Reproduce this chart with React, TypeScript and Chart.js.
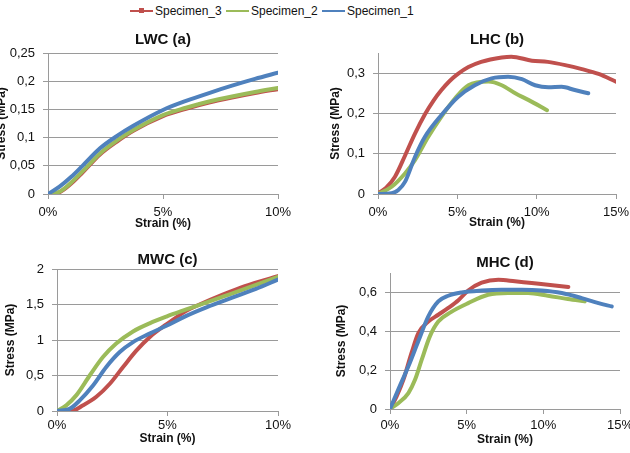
import React, { useEffect, useRef } from "react";
import { Chart, registerables } from "chart.js";

Chart.register(...registerables);

type Pt = [number, number];

// ---------- labels ----------
const seriesNames = ["Specimen_3", "Specimen_2", "Specimen_1"];
const seriesColors = ["#C0504D", "#9BBB59", "#4F81BD"];
const panelTitles = ["LWC (a)", "LHC (b)", "MWC (c)", "MHC (d)"];
const xAxisTitle = "Strain (%)";
const yAxisTitle = "Stress (MPa)";
const strainMax = [10, 15, 10, 15];
const strainStep = 5;
const stressMax = [0.25, 0.35, 2, 0.7];
const stressStep = [0.05, 0.1, 0.5, 0.2];
const stressTickMax = [0.25, 0.3, 2, 0.6];

// ---------- data: [strain %, stress MPa] ----------
const lwcSpecimen3: Pt[] = [[0, 0], [0.5, 0.003], [1, 0.018], [1.5, 0.038], [2.26, 0.07], [3, 0.093], [3.71, 0.112], [5, 0.138], [6, 0.151], [7, 0.162], [8, 0.171], [9, 0.179], [10, 0.186]];
const lwcSpecimen2: Pt[] = [[0, 0], [0.5, 0.004], [1, 0.02], [1.5, 0.04], [2.26, 0.072], [3, 0.095], [3.71, 0.1135], [5, 0.14], [6, 0.153], [7, 0.164], [8, 0.173], [9, 0.181], [10, 0.188]];
const lwcSpecimen1: Pt[] = [[0, 0], [0.5, 0.013], [1, 0.03], [1.5, 0.05], [2.26, 0.081], [3, 0.103], [3.71, 0.121], [5, 0.149], [6, 0.165], [7, 0.179], [8, 0.192], [9, 0.204], [10, 0.215]];

const lhcSpecimen3: Pt[] = [[0, 0.002], [0.5, 0.015], [1.07, 0.043], [1.7, 0.095], [2.33, 0.15], [2.96, 0.198], [3.5, 0.232], [4, 0.258], [4.5, 0.28], [5.04, 0.298], [5.7, 0.315], [6.5, 0.328], [7.8, 0.339], [8.4, 0.341], [9.7, 0.331], [10.7, 0.328], [11.8, 0.32], [12.85, 0.31], [13.9, 0.298], [15, 0.279]];
const lhcSpecimen2: Pt[] = [[0, 0], [0.86, 0.018], [1.7, 0.051], [2.33, 0.084], [3.17, 0.142], [4, 0.192], [4.85, 0.237], [5.7, 0.27], [6.96, 0.279], [7.8, 0.27], [8.65, 0.25], [9.5, 0.233], [10.65, 0.208]];
const lhcSpecimen1: Pt[] = [[0, 0], [0.86, 0.002], [1.28, 0.01], [1.7, 0.03], [2.33, 0.092], [2.96, 0.142], [4, 0.196], [5.04, 0.241], [6.1, 0.27], [7.16, 0.287], [8.2, 0.291], [9.07, 0.285], [9.9, 0.27], [10.74, 0.265], [11.57, 0.266], [12.4, 0.258], [13.25, 0.25]];

const mwcSpecimen3: Pt[] = [[0, 0], [0.65, 0], [1.18, 0.08], [1.78, 0.2], [2.38, 0.38], [2.99, 0.62], [3.59, 0.85], [4.19, 1.04], [4.95, 1.22], [5.85, 1.41], [6.45, 1.5], [7.5, 1.64], [8.5, 1.76], [10, 1.9]];
const mwcSpecimen2: Pt[] = [[0, 0], [0.42, 0.08], [0.87, 0.22], [1.48, 0.5], [2.08, 0.76], [2.68, 0.95], [3.44, 1.12], [4.19, 1.235], [4.95, 1.33], [5.85, 1.43], [6.45, 1.495], [7.5, 1.61], [8.5, 1.72], [10, 1.89]];
const mwcSpecimen1: Pt[] = [[0, 0], [0.57, 0.03], [1.03, 0.15], [1.63, 0.36], [2.23, 0.62], [2.84, 0.83], [3.44, 0.97], [4.19, 1.09], [4.95, 1.2], [5.85, 1.34], [6.76, 1.46], [7.96, 1.6], [9, 1.72], [10, 1.85]];

const mhcSpecimen3: Pt[] = [[0, 0], [0.43, 0.065], [0.87, 0.15], [1.41, 0.29], [1.85, 0.39], [2.5, 0.45], [3.15, 0.485], [3.8, 0.52], [4.46, 0.56], [5.1, 0.61], [5.98, 0.65], [7.07, 0.665], [8.15, 0.657], [9.24, 0.648], [10.3, 0.64], [11.63, 0.628]];
const mhcSpecimen2: Pt[] = [[0, 0], [0.54, 0.03], [1.2, 0.082], [1.63, 0.15], [2.07, 0.254], [2.6, 0.374], [3.15, 0.45], [4, 0.5], [5.1, 0.545], [6.4, 0.588], [7.7, 0.597], [9, 0.597], [10.3, 0.583], [11.6, 0.566], [12.7, 0.554]];
const mhcSpecimen1: Pt[] = [[0, 0], [0.54, 0.1], [1.2, 0.22], [1.85, 0.35], [2.5, 0.477], [3.15, 0.554], [3.8, 0.583], [4.67, 0.6], [5.98, 0.61], [7.28, 0.614], [8.6, 0.614], [9.9, 0.61], [11.2, 0.597], [12.5, 0.571], [13.6, 0.545], [14.46, 0.528]];

const panelData: Pt[][][] = [
  [lwcSpecimen3, lwcSpecimen2, lwcSpecimen1],
  [lhcSpecimen3, lhcSpecimen2, lhcSpecimen1],
  [mwcSpecimen3, mwcSpecimen2, mwcSpecimen1],
  [mhcSpecimen3, mhcSpecimen2, mhcSpecimen1],
];

// ---------- layout (page pixels) ----------
type Geo = { L: number; R: number; T: number; B: number; titleCY: number; yTitleCX: number; xLabelCY: number; xTitleCY: number; yLabelRight: number };
const panelGeo: Geo[] = [
  { L: 48, R: 278, T: 53, B: 194, titleCY: 40, yTitleCX: 2, xLabelCY: 212, xTitleCY: 224, yLabelRight: 35 },
  { L: 378, R: 616, T: 53, B: 194, titleCY: 40, yTitleCX: 336, xLabelCY: 212, xTitleCY: 223, yLabelRight: 365 },
  { L: 57, R: 278, T: 268, B: 411, titleCY: 260, yTitleCX: 11, xLabelCY: 425, xTitleCY: 439, yLabelRight: 44 },
  { L: 390, R: 620, T: 273, B: 409, titleCY: 263, yTitleCX: 342, xLabelCY: 425, xTitleCY: 440, yLabelRight: 377 },
];

const FAMILY = "'Liberation Sans', Arial, sans-serif";
const TITLE_SIZE = 15;
const AXIS_TITLE_SIZE = 12;
const TICK_SIZE = 13;
const TICK_LEN = 5;
const GRID = "#9a9a9a";
const TEXT = "#111";

function computeGeo(g: Geo) {
  const axLH = AXIS_TITLE_SIZE * 1.2;
  const titleLH = TITLE_SIZE * 1.2;
  const left = Math.floor(g.yTitleCX - axLH / 2 - 1);
  const top = Math.floor(g.titleCY - titleLH / 2);
  const right = g.R + 24;
  const bottom = Math.ceil(g.xTitleCY + axLH / 2 + 1);
  return {
    left,
    top,
    width: right - left,
    height: bottom - top,
    yTitlePad: g.yTitleCX - left - axLH / 2,
    titlePadTop: g.titleCY - top - titleLH / 2,
    titlePadBottom: Math.max(0, g.T - top - titleLH - (g.titleCY - top - titleLH / 2)),
    yAxisW: g.L - left,
    xAxisH: bottom - g.B,
    xTitlePad: bottom - g.xTitleCY - axLH / 2,
    xTickPad: g.xLabelCY - g.B - TICK_LEN - (TICK_SIZE * 1.2) / 2,
    yTickPad: g.L - TICK_LEN - g.yLabelRight,
    padRight: right - g.R,
  };
}

function fmt(v: number) {
  return String(+v.toFixed(2)).replace(".", ",");
}

function Panel({ index }: { index: number }) {
  const ref = useRef<HTMLCanvasElement | null>(null);
  const geo = computeGeo(panelGeo[index]);

  useEffect(() => {
    if (!ref.current) return;
    const series = panelData[index];
    const order = [2, 1, 0]; // Specimen_1 on top, then Specimen_2, then Specimen_3
    const datasets = order.map((s) => ({
      label: seriesNames[s],
      data: series[s].map(([x, y]) => ({ x, y })),
      borderColor: seriesColors[s],
      backgroundColor: seriesColors[s],
      borderWidth: 4,
      pointRadius: 0,
      tension: 0.4,
      cubicInterpolationMode: "monotone" as const,
      borderCapStyle: "round" as const,
      borderJoinStyle: "round" as const,
      fill: false,
    }));
    const tickMax = stressTickMax[index];
    const chart = new Chart(ref.current, {
      type: "line",
      data: { datasets },
      options: {
        animation: false,
        responsive: false,
        maintainAspectRatio: false,
        layout: { padding: { left: 0, top: 0, right: geo.padRight, bottom: 0 } },
        plugins: {
          legend: { display: false },
          tooltip: { enabled: false },
          title: {
            display: true,
            text: panelTitles[index],
            fullSize: false,
            color: TEXT,
            font: { family: FAMILY, size: TITLE_SIZE, weight: "bold" },
            padding: { top: geo.titlePadTop, bottom: geo.titlePadBottom },
          },
        },
        scales: {
          x: {
            type: "linear",
            min: 0,
            max: strainMax[index],
            afterFit: (s: any) => {
              s.height = geo.xAxisH;
            },
            ticks: {
              stepSize: strainStep,
              maxRotation: 0,
              autoSkip: false,
              padding: geo.xTickPad,
              color: TEXT,
              font: { family: FAMILY, size: TICK_SIZE },
              callback: (v: any) => `${v}%`,
            },
            grid: { drawOnChartArea: false, drawTicks: true, tickLength: TICK_LEN, color: GRID },
            border: { display: true, color: GRID, width: 1 },
            title: {
              display: true,
              text: xAxisTitle,
              color: TEXT,
              font: { family: FAMILY, size: AXIS_TITLE_SIZE, weight: "bold" },
              padding: { top: 0, bottom: geo.xTitlePad },
            },
          },
          y: {
            type: "linear",
            min: 0,
            max: stressMax[index],
            afterFit: (s: any) => {
              s.width = geo.yAxisW;
            },
            afterBuildTicks: (s: any) => {
              s.ticks = s.ticks.filter((t: any) => t.value <= tickMax + 1e-9);
            },
            ticks: {
              stepSize: stressStep[index],
              padding: geo.yTickPad,
              color: TEXT,
              font: { family: FAMILY, size: TICK_SIZE },
              callback: (v: any) => fmt(Number(v)),
            },
            grid: { drawOnChartArea: true, drawTicks: true, tickLength: TICK_LEN, color: GRID, lineWidth: 1 },
            border: { display: true, color: GRID, width: 1 },
            title: {
              display: true,
              text: yAxisTitle,
              color: TEXT,
              font: { family: FAMILY, size: AXIS_TITLE_SIZE, weight: "bold" },
              padding: { top: geo.yTitlePad, bottom: 0 },
            },
          },
        },
      },
    });
    return () => chart.destroy();
  }, [index]);

  return (
    <canvas
      ref={ref}
      width={geo.width}
      height={geo.height}
      style={{ position: "absolute", left: geo.left, top: geo.top, width: geo.width, height: geo.height }}
    />
  );
}

const legendLineLeft = [130, 226, 322];

function Legend() {
  return (
    <>
      {seriesNames.map((name, i) => (
        <React.Fragment key={name}>
          <div style={{ position: "absolute", left: legendLineLeft[i], top: 10, width: 23, height: 2, background: seriesColors[i] }} />
          {i === 0 && (
            <div style={{ position: "absolute", left: legendLineLeft[i] + 9, top: 8, width: 5, height: 5, background: seriesColors[i] }} />
          )}
          <div
            style={{
              position: "absolute",
              left: legendLineLeft[i] + 25,
              top: 3,
              height: 16,
              lineHeight: "16px",
              fontFamily: FAMILY,
              fontSize: 12,
              color: TEXT,
              whiteSpace: "nowrap",
            }}
          >
            {name}
          </div>
        </React.Fragment>
      ))}
    </>
  );
}

export default function App() {
  return (
    <div style={{ position: "fixed", left: 0, top: 0, width: 630, height: 453, overflow: "hidden", background: "#fff" }}>
      <Legend />
      {[0, 1, 2, 3].map((i) => (
        <Panel key={i} index={i} />
      ))}
    </div>
  );
}
